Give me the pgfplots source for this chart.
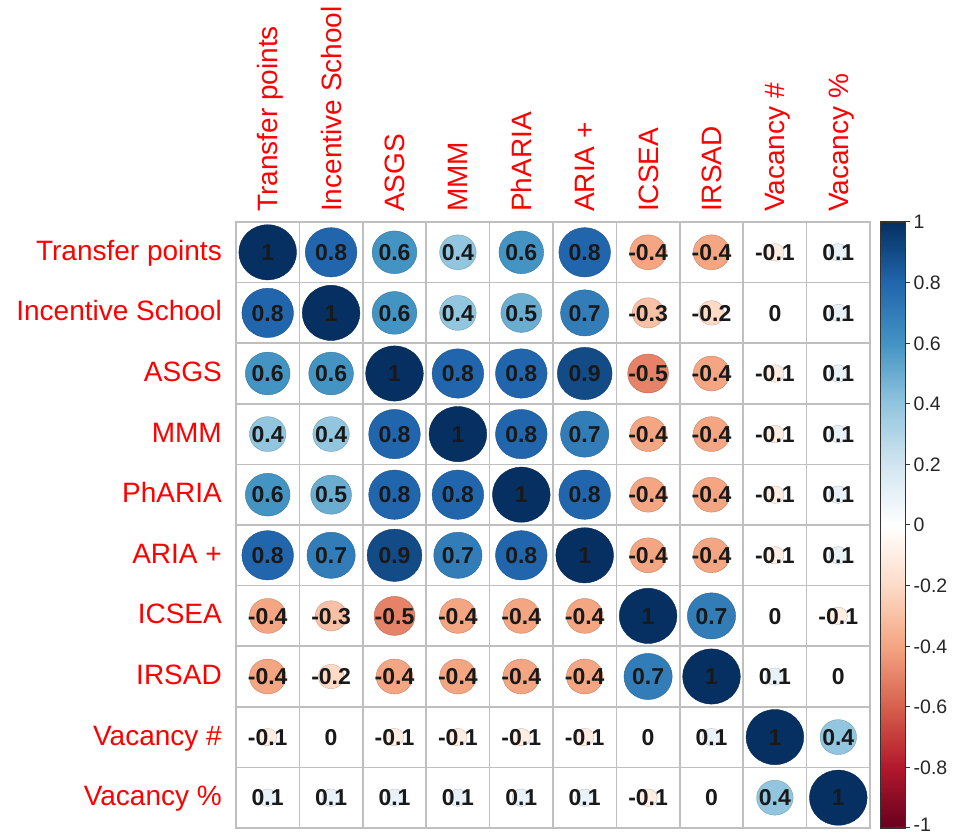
\documentclass[border=0pt]{standalone}
\usepackage{fontspec}
\setmainfont{Liberation Sans}
\usepackage{pgfplots}
\usepackage{pgfplotstable}
\pgfplotsset{compat=1.18}

\pgfplotstableread{
x y v
0 0 1
1 0 0.8
2 0 0.6
3 0 0.4
4 0 0.6
5 0 0.8
6 0 -0.4
7 0 -0.4
8 0 -0.1
9 0 0.1
0 1 0.8
1 1 1
2 1 0.6
3 1 0.4
4 1 0.5
5 1 0.7
6 1 -0.3
7 1 -0.2
8 1 0
9 1 0.1
0 2 0.6
1 2 0.6
2 2 1
3 2 0.8
4 2 0.8
5 2 0.9
6 2 -0.5
7 2 -0.4
8 2 -0.1
9 2 0.1
0 3 0.4
1 3 0.4
2 3 0.8
3 3 1
4 3 0.8
5 3 0.7
6 3 -0.4
7 3 -0.4
8 3 -0.1
9 3 0.1
0 4 0.6
1 4 0.5
2 4 0.8
3 4 0.8
4 4 1
5 4 0.8
6 4 -0.4
7 4 -0.4
8 4 -0.1
9 4 0.1
0 5 0.8
1 5 0.7
2 5 0.9
3 5 0.7
4 5 0.8
5 5 1
6 5 -0.4
7 5 -0.4
8 5 -0.1
9 5 0.1
0 6 -0.4
1 6 -0.3
2 6 -0.5
3 6 -0.4
4 6 -0.4
5 6 -0.4
6 6 1
7 6 0.7
8 6 0
9 6 -0.1
0 7 -0.4
1 7 -0.2
2 7 -0.4
3 7 -0.4
4 7 -0.4
5 7 -0.4
6 7 0.7
7 7 1
8 7 0.1
9 7 0
0 8 -0.1
1 8 0
2 8 -0.1
3 8 -0.1
4 8 -0.1
5 8 -0.1
6 8 0
7 8 0.1
8 8 1
9 8 0.4
0 9 0.1
1 9 0.1
2 9 0.1
3 9 0.1
4 9 0.1
5 9 0.1
6 9 -0.1
7 9 0
8 9 0.4
9 9 1
}\corr

\begin{document}
\begin{tikzpicture}
\begin{axis}[
  name=ax,
  scale only axis,
  width=634bp, height=606bp,
  xmin=-0.5, xmax=9.5, ymin=-0.5, ymax=9.5,
  y dir=reverse,
  clip=false,
  axis line style={draw=black!25, line width=1.5bp},
  xtick={0,...,9}, ytick={0,...,9},
  xticklabels={Transfer points,Incentive School,ASGS,MMM,PhARIA,ARIA +,ICSEA,IRSAD,Vacancy \#,Vacancy \%},
  yticklabels={Transfer points,Incentive School,ASGS,MMM,PhARIA,ARIA +,ICSEA,IRSAD,Vacancy \#,Vacancy \%},
  major tick length=0pt, minor tick length=0pt,
  minor xtick={0.5,1.5,...,8.5}, minor ytick={0.5,1.5,...,8.5},
  xminorgrids=true, yminorgrids=true,
  minor grid style={draw=black!25, line width=1.5bp},
  xticklabel pos=upper,
  xticklabel shift=10bp,
  yticklabel shift=14bp,
  xticklabel style={rotate=90, anchor=west, inner sep=0pt, text=red,
     font=\fontsize{28bp}{31bp}\selectfont, text height=20bp, text depth=0pt},
  yticklabel style={anchor=east, inner sep=0pt, text=red,
     font=\fontsize{28bp}{31bp}\selectfont, text height=20bp, text depth=0pt, yshift=2bp},
  colormap={rdbu}{rgb255=(103,0,31) rgb255=(178,24,43) rgb255=(214,96,77) rgb255=(244,165,130) rgb255=(253,219,199) rgb255=(255,255,255) rgb255=(209,229,240) rgb255=(146,197,222) rgb255=(67,147,195) rgb255=(33,102,172) rgb255=(5,48,97)},
  point meta min=-1, point meta max=1,
  colorbar,
  colorbar/width=25bp,
  colorbar style={
    at={(parent axis.north east)}, anchor=north west, xshift=2bp,
    scale only axis, width=25bp, height=606bp,
    ytick={-1,-0.8,-0.6,-0.4,-0.2,0,0.2,0.4,0.6,0.8,1},
    yticklabels={\raisebox{3bp}{-1},-0.8,-0.6,-0.4,-0.2,0,0.2,0.4,0.6,0.8,1},
    ytick pos=right, yticklabel pos=right,
    tick align=outside, major tick length=4bp,
    axis line style={draw=black!80, line width=1.2bp},
    major tick style={draw=black!80, line width=1bp},
    yticklabel shift=4bp,
    yticklabel style={anchor=west, inner sep=0pt, text=black!85, rotate=0, yshift=0pt,
       font=\fontsize{19.5bp}{22bp}\selectfont, text height=14bp, text depth=0pt},
  },
]
\addplot[scatter, only marks, mark=*,
  mark options={yscale=0.956},
  point meta=\thisrow{v},
  visualization depends on={sqrt(abs(\thisrow{v}))*28.85 \as \msize},
  scatter/@pre marker code/.append style={/tikz/mark size=\msize bp}]
  table[x=x, y=y] {\corr};
\addplot[only marks, mark=none, point meta=explicit symbolic,
  nodes near coords,
  every node near coord/.append style={anchor=center, inner sep=0pt, text=black!90,
    font=\fontsize{23bp}{26bp}\selectfont\bfseries, text height=16.5bp, text depth=0pt}]
  table[x=x, y=y, meta=v] {\corr};
\end{axis}
\pgfresetboundingbox
\path[use as bounding box] ([shift={(-236bp,-8bp)}]ax.south west) rectangle ([shift={(83bp,222bp)}]ax.north east);
\end{tikzpicture}
\end{document}
